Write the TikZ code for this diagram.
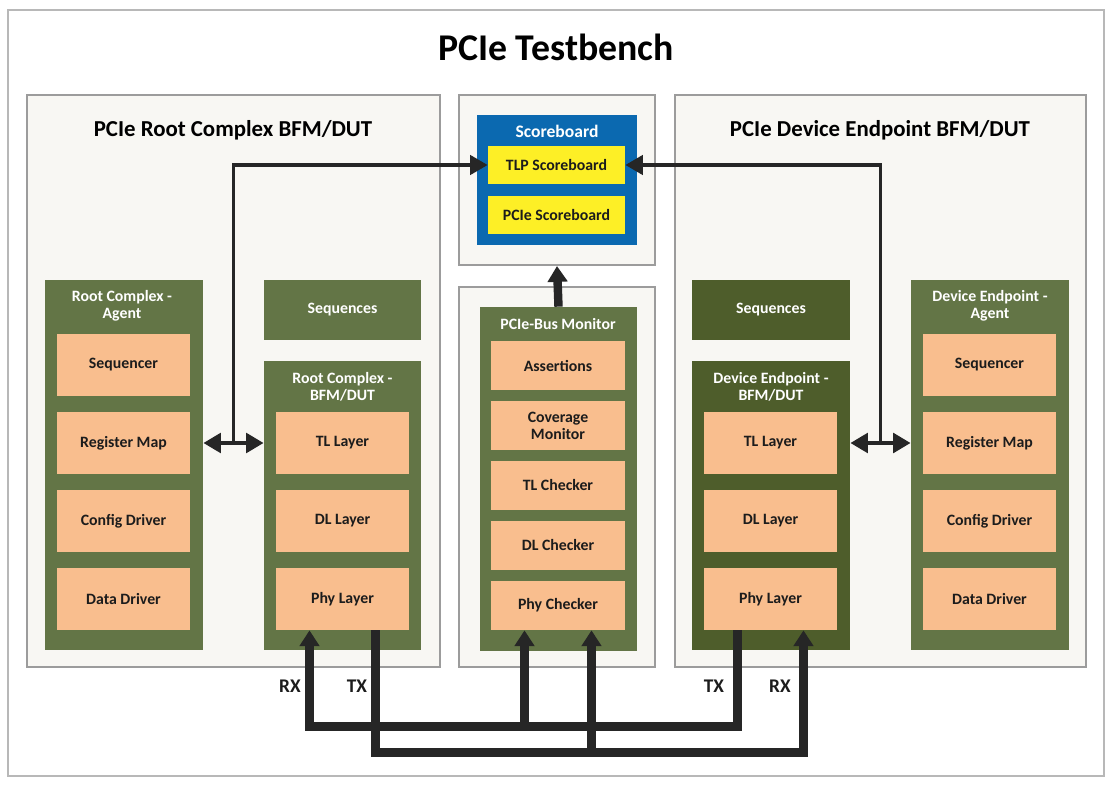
\documentclass[tikz,border=0pt]{standalone}
\usepackage{fontspec}
\setmainfont{Carlito}
\usetikzlibrary{arrows.meta}
\definecolor{framegray}{HTML}{B8B8B8}
\definecolor{panelgray}{HTML}{9C9C9C}
\definecolor{panelbg}{HTML}{F8F7F3}
\definecolor{grpgreen}{HTML}{637546}
\definecolor{grpdark}{HTML}{4E5D2B}
\definecolor{salmon}{HTML}{F9BE8E}
\definecolor{sbblue}{HTML}{0B69B0}
\definecolor{sbyellow}{HTML}{FDEF26}
\definecolor{ink}{HTML}{1C1C1C}
\definecolor{wire}{HTML}{262626}
\begin{document}
\begin{tikzpicture}[x=0.02cm,y=-0.02cm,font=\bfseries,
    panel/.style={draw=panelgray,fill=panelbg,line width=1.2pt,inner sep=0pt},
    grp/.style={fill=grpgreen,inner sep=0pt},
    grptitle/.style={text=white,align=center,font=\bfseries\fontsize{9}{9.6}\selectfont},
    item/.style={fill=salmon,text=ink,minimum width=2.66cm,minimum height=1.24cm,inner sep=0pt,align=center,font=\bfseries\fontsize{9}{9.6}\selectfont},
    check/.style={item,minimum width=2.68cm,minimum height=0.98cm},
    sbitem/.style={fill=sbyellow,text=ink,minimum width=2.74cm,minimum height=0.76cm,inner sep=0pt,font=\bfseries\fontsize{9}{10}\selectfont},
    lbl/.style={text=ink,font=\bfseries\fontsize{11}{12}\selectfont},
    link/.style={draw=wire,line width=2pt,-{Triangle[width=11pt,length=10pt]}},
    dbl/.style={draw=wire,line width=2.6pt,{Triangle[width=11pt,length=10pt]}-{Triangle[width=11pt,length=10pt]}},
    bus/.style={draw=wire,line width=4.8pt,-{Triangle[width=11pt,length=9pt]}}]
    \useasboundingbox (0,0) rectangle (1110,787);
    \fill[white] (0,0) rectangle (1110,787);
    \node[draw=framegray,line width=1.1pt,minimum width=21.92cm,minimum height=15.32cm,inner sep=0pt] (frame) at (556,393) {};
    \node[font=\bfseries\fontsize{21.5}{24}\selectfont] (ttl) at (556,47) {PCIe Testbench};

    % panels
    \node[panel,minimum width=8.26cm,minimum height=11.44cm] (rcpanel) at (233.5,381) {};
    \node[panel,minimum width=3.92cm,minimum height=3.4cm] (sbpanel) at (557,180) {};
    \node[panel,minimum width=3.92cm,minimum height=7.6cm] (monpanel) at (557,477) {};
    \node[panel,minimum width=8.22cm,minimum height=11.44cm] (depanel) at (880.5,381) {};
    \node[font=\bfseries\fontsize{13}{15}\selectfont] (rcttl) at (233,130) {PCIe Root Complex BFM/DUT};
    \node[font=\bfseries\fontsize{13}{15}\selectfont] (dettl) at (880,130) {PCIe Device Endpoint BFM/DUT};

    % scoreboard
    \node[fill=sbblue,minimum width=3.2cm,minimum height=2.6cm,inner sep=0pt] (sb) at (557,180) {};
    \node[grptitle,font=\bfseries\fontsize{10}{11}\selectfont] (sbttl) at (557,131) {Scoreboard};
    \node[sbitem] (tlpsb) at (556.5,165) {TLP Scoreboard};
    \node[sbitem] (pciesb) at (556.5,215) {PCIe Scoreboard};

    % bus monitor
    \node[grp,minimum width=3.14cm,minimum height=6.88cm] (mon) at (558.5,479) {};
    \node[grptitle] (monttl) at (558,324) {PCIe-Bus Monitor};
    \node[check] (assert) at (558,365.5) {Assertions};
    \node[check] (covmon) at (558,425.5) {Coverage\\Monitor};
    \node[check] (tlchk) at (558,485.5) {TL Checker};
    \node[check] (dlchk) at (558,545.5) {DL Checker};
    \node[check] (phychk) at (558,605.5) {Phy Checker};

    % root complex side
    \node[grp,minimum width=3.16cm,minimum height=7.4cm] (rcagent) at (124,465) {};
    \node[grptitle] (rcagttl) at (122,306) {Root Complex -\\Agent};
    \node[item] (rcseqr) at (123.5,365) {Sequencer};
    \node[item] (rcreg) at (123.5,443) {Register Map};
    \node[item] (rccfg) at (123.5,521) {Config Driver};
    \node[item] (rcdata) at (123.5,599) {Data Driver};
    \node[grp,minimum width=3.14cm,minimum height=1.2cm] (rcseqs) at (342.5,310) {};
    \node[grptitle] at (rcseqs) {Sequences};
    \node[grp,minimum width=3.14cm,minimum height=5.78cm] (rcbfm) at (342.5,505.5) {};
    \node[grptitle] (rcbfmttl) at (342.5,387) {Root Complex -\\BFM/DUT};
    \node[item] (rctl) at (342.5,443) {TL Layer};
    \node[item] (rcdl) at (342.5,521) {DL Layer};
    \node[item] (rcphy) at (342.5,599) {Phy Layer};

    % device endpoint side
    \node[grp,fill=grpdark,minimum width=3.16cm,minimum height=1.2cm] (deseqs) at (771,310) {};
    \node[grptitle] at (deseqs) {Sequences};
    \node[grp,fill=grpdark,minimum width=3.16cm,minimum height=5.78cm] (debfm) at (771,505.5) {};
    \node[grptitle] (debfmttl) at (771,387) {Device Endpoint -\\BFM/DUT};
    \node[item] (detl) at (770.5,443) {TL Layer};
    \node[item] (dedl) at (770.5,521) {DL Layer};
    \node[item] (dephy) at (770.5,599) {Phy Layer};
    \node[grp,minimum width=3.16cm,minimum height=7.4cm] (deagent) at (990,465) {};
    \node[grptitle] (deagttl) at (990,306) {Device Endpoint -\\Agent};
    \node[item] (deseqr) at (989.5,365) {Sequencer};
    \node[item] (dereg) at (989.5,443) {Register Map};
    \node[item] (decfg) at (989.5,521) {Config Driver};
    \node[item] (dedata) at (989.5,599) {Data Driver};

    % connectors
    \coordinate (rcjoin) at (233.5,443);
    \coordinate (dejoin) at (880.5,443);
    \draw[dbl] (rcagent.east |- rctl) -- (rcbfm.west |- rctl);
    \draw[link] (rcjoin) |- (tlpsb.west);
    \draw[dbl] (debfm.east |- detl) -- (deagent.west |- detl);
    \draw[link] (dejoin) |- (tlpsb.east);
    \draw[bus] (mon.north) -- (sbpanel.south);

    % serial lanes
    \draw[bus] ([xshift=0.66cm]rcphy.south) -- ++(0,122) -| ([xshift=0.66cm]dephy.south);
    \draw[bus] ([xshift=-0.66cm]dephy.south) -- ++(0,96) -| ([xshift=-0.66cm]rcphy.south);
    \draw[bus] ([xshift=-0.67cm]phychk.south) ++(0,96) -- ([xshift=-0.67cm]phychk.south);
    \draw[bus] ([xshift=0.67cm]phychk.south) ++(0,122) -- ([xshift=0.67cm]phychk.south);
    \node[lbl] (rcrx) at (290,686) {RX};
    \node[lbl] (rctx) at (357,686) {TX};
    \node[lbl] (detx) at (714,686) {TX};
    \node[lbl] (derx) at (780,686) {RX};
\end{tikzpicture}
\end{document}
